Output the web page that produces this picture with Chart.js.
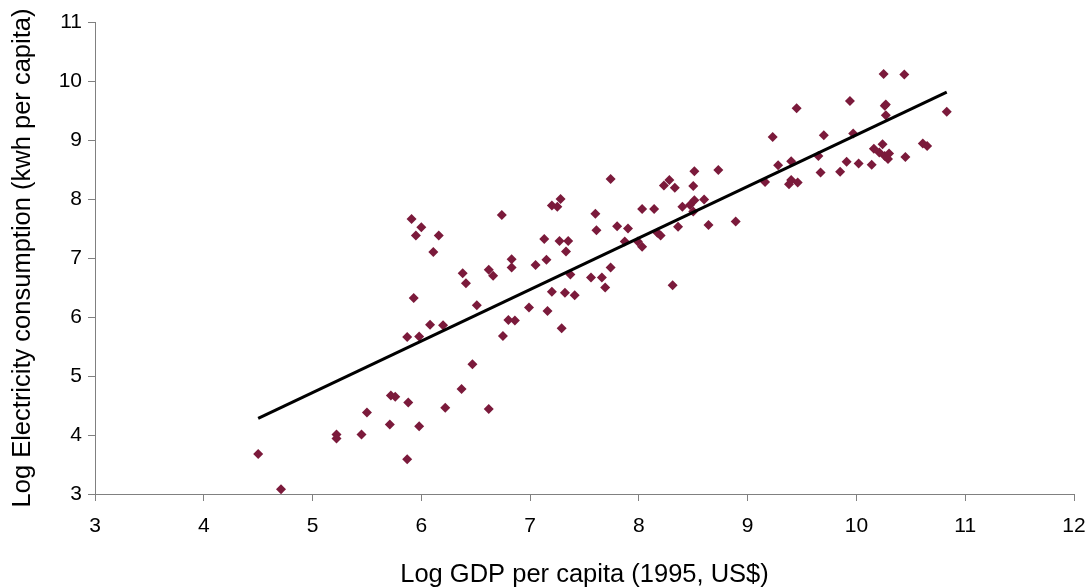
<!DOCTYPE html>
<html>
<head>
<meta charset="utf-8">
<script src="https://cdn.jsdelivr.net/npm/chart.js@4/dist/chart.umd.min.js"></script>
<style>
  body { margin: 0; background: #fff; }
  #wrap { width: 1085px; height: 587px; position: relative; }
</style>
</head>
<body>
<div id="wrap"><canvas id="scatterChart"></canvas></div>
<script>
// Log GDP per capita (x) and log electricity consumption (y)
const gdp = [
  4.50, 4.71, 5.22, 5.22, 5.45, 5.50, 5.71, 5.72, 5.76, 5.88,
  5.87, 5.98, 6.22, 6.62, 6.37, 6.47, 5.87, 5.98, 6.08, 6.20,
  5.93, 6.51, 6.38, 6.41, 6.62, 6.66, 6.83, 6.83, 6.80, 6.86,
  6.75, 6.99, 7.16, 7.29, 7.20, 7.32, 7.41, 7.05, 7.15, 7.37,
  7.13, 7.27, 7.35, 7.33, 7.20, 7.25, 7.28, 6.74, 5.91, 6.00,
  5.95, 6.16, 6.11, 7.74, 7.60, 7.61, 7.80, 7.90, 7.87, 7.99,
  8.03, 8.03, 8.14, 8.23, 8.28, 8.33, 8.17, 8.20, 8.36, 8.40,
  8.47, 8.51, 8.50, 8.50, 8.51, 8.60, 8.73, 8.64, 8.89, 7.74,
  7.56, 7.66, 7.69, 8.31, 9.23, 9.70, 9.97, 9.28, 9.40, 9.65,
  9.16, 9.38, 9.40, 9.46, 9.67, 9.85, 9.91, 10.02, 10.14, 10.16,
  10.24, 10.21, 10.26, 10.30, 10.29, 10.45, 10.61, 10.65, 10.25, 10.44,
  10.26, 10.27, 10.27, 10.83, 9.45, 9.94
];
const elec = [
  3.68, 3.08, 4.01, 3.94, 4.01, 4.38, 4.18, 4.67, 4.65, 4.55,
  3.59, 4.15, 4.46, 4.44, 4.78, 5.20, 5.66, 5.67, 5.87, 5.86,
  6.32, 6.20, 6.74, 6.57, 6.80, 6.70, 6.98, 6.84, 5.95, 5.94,
  5.68, 6.16, 6.10, 5.81, 6.43, 6.41, 6.37, 6.88, 6.97, 6.72,
  7.32, 7.29, 7.29, 7.11, 7.89, 7.87, 8.00, 7.73, 7.66, 7.52,
  7.38, 7.38, 7.10, 8.34, 7.75, 7.47, 7.54, 7.50, 7.28, 7.28,
  7.19, 7.83, 7.83, 8.23, 8.32, 8.19, 7.43, 7.38, 7.53, 7.87,
  7.90, 7.98, 7.79, 8.22, 8.47, 7.99, 8.49, 7.56, 7.62, 6.84,
  6.67, 6.67, 6.50, 6.54, 9.05, 9.08, 9.11, 8.57, 8.64, 8.73,
  8.29, 8.25, 8.32, 8.28, 8.45, 8.46, 8.63, 8.60, 8.58, 8.85,
  8.93, 8.79, 8.73, 8.77, 8.68, 8.71, 8.94, 8.90, 10.12, 10.11,
  9.58, 9.60, 9.42, 9.48, 9.54, 9.66
];

// fitted trend line, drawn between its two end points
const trendX = [4.50, 10.83];
const trendY = [4.28, 9.81];

const xTicks = [3, 4, 5, 6, 7, 8, 9, 10, 11, 12];
const yTicks = [3, 4, 5, 6, 7, 8, 9, 10, 11];

const fontFamily = "'Liberation Sans', Arial, sans-serif";
const axisGrey = '#808080';

const points = gdp.map((x, i) => ({ x: x, y: elec[i] }));
const trend = trendX.map((x, i) => ({ x: x, y: trendY[i] }));

new Chart(document.getElementById('scatterChart').getContext('2d'), {
  type: 'scatter',
  data: {
    datasets: [
      {
        label: 'Countries',
        data: points,
        pointStyle: 'rectRot',
        pointRadius: 5,
        pointHoverRadius: 5,
        backgroundColor: '#7b1a3b',
        borderColor: '#7b1a3b',
        borderWidth: 0,
        order: 2
      },
      {
        label: 'Trend',
        data: trend,
        showLine: true,
        pointRadius: 0,
        borderColor: '#000',
        borderWidth: 3,
        order: 1
      }
    ]
  },
  options: {
    responsive: true,
    maintainAspectRatio: false,
    animation: false,
    layout: { padding: { top: 22, right: 11, left: 0, bottom: 0 } },
    plugins: {
      legend: { display: false },
      tooltip: { enabled: false }
    },
    scales: {
      x: {
        type: 'linear',
        min: 3,
        max: 12,
        afterBuildTicks: (scale) => { scale.ticks = xTicks.map(v => ({ value: v })); },
        afterFit: (scale) => { scale.height = 93; scale.paddingRight = 11; },
        border: { color: axisGrey, width: 1 },
        grid: { drawOnChartArea: false, drawTicks: true, tickLength: 7, color: axisGrey },
        ticks: {
          color: '#000',
          padding: 13,
          font: { family: fontFamily, size: 21 }
        },
        title: {
          display: true,
          text: 'Log GDP per capita (1995, US$)',
          color: '#000',
          padding: { top: 6 },
          font: { family: fontFamily, size: 25.5, lineHeight: 0.65 }
        }
      },
      y: {
        type: 'linear',
        min: 3,
        max: 11,
        afterBuildTicks: (scale) => { scale.ticks = yTicks.map(v => ({ value: v })); },
        afterFit: (scale) => { scale.width = 95; },
        border: { color: axisGrey, width: 1 },
        grid: { drawOnChartArea: false, drawTicks: true, tickLength: 7, color: axisGrey },
        ticks: {
          color: '#000',
          padding: 6,
          font: { family: fontFamily, size: 21 }
        },
        title: {
          display: true,
          text: 'Log Electricity consumption (kwh per capita)',
          color: '#000',
          padding: { top: 8, bottom: 4 },
          font: { family: fontFamily, size: 25.5 }
        }
      }
    }
  }
});
</script>
</body>
</html>
